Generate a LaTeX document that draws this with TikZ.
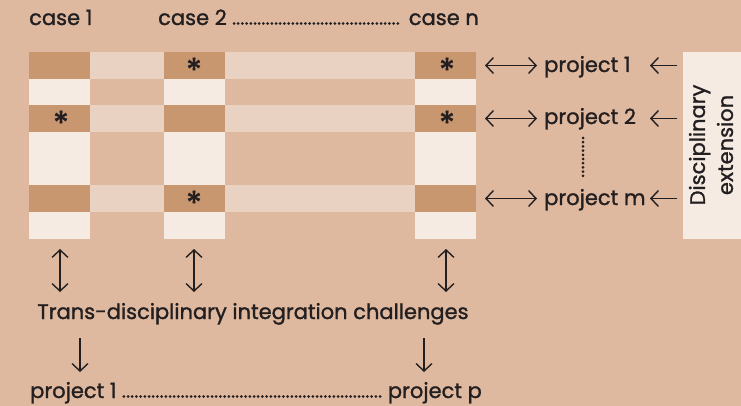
\documentclass[tikz,border=0pt]{standalone}
\usepackage{fontspec}
\setmainfont{Poppins}
\newfontfamily\lblfont{Poppins}[FakeBold=1.3]
\usetikzlibrary{arrows.meta}
\definecolor{bg}{HTML}{DEB9A0}
\definecolor{dark}{HTML}{C8966F}
\definecolor{pale}{HTML}{EAD2C2}
\definecolor{light}{HTML}{F5EBE3}
\definecolor{ink}{HTML}{231F20}
\begin{document}
\begin{tikzpicture}[x=1pt,y=-1pt,
  lbl/.style={font=\lblfont\fontsize{21}{28}\selectfont, text=ink, inner sep=0pt},
  star/.style={font=\lblfont\fontsize{33}{33}\selectfont, text=ink, inner sep=0pt},
  barb/.tip={Straight Barb[length=7.5pt,width=16pt,line width=1.4pt]},
  arr/.style={draw=ink, line width=1.4pt, -barb},
  darr/.style={draw=ink, line width=1.4pt, barb-barb},
  dots/.style={draw=ink, line width=3pt, line cap=round, dash pattern=on 0pt off 4.2pt}]
\fill[bg] (0,0) rectangle (741,406);
\useasboundingbox (0,0) rectangle (741,406);
% grid
\foreach \ya/\yb in {52/79,105/132,185/212}{
  \fill[dark] (29,\ya) rectangle (90,\yb);
  \fill[pale] (90,\ya) rectangle (164,\yb);
  \fill[dark] (164,\ya) rectangle (225,\yb);
  \fill[pale] (225,\ya) rectangle (415,\yb);
  \fill[dark] (415,\ya) rectangle (476,\yb);
}
\foreach \ya/\yb in {79/105,132/185,212/239}{
  \fill[light] (29,\ya) rectangle (90,\yb);
  \fill[light] (164,\ya) rectangle (225,\yb);
  \fill[light] (415,\ya) rectangle (476,\yb);
}
% stars
\node[star] (s1) at (194,70) {*};
\node[star] (s2) at (447,70) {*};
\node[star] (s3) at (61,123) {*};
\node[star] (s4) at (447,123) {*};
\node[star] (s5) at (194,203) {*};
% header
\node[lbl, anchor=base west] (c1) at (29,25) {case 1};
\node[lbl, anchor=base west] (c2) at (158,25) {case 2};
\node[lbl, anchor=base east] (cn) at (479,25) {case n};
\draw[dots] ([xshift=7pt,yshift=1.5pt]c2.base east) -- ([xshift=-7pt,yshift=1.5pt]cn.base west);
% extension box
\fill[light] (683,52) rectangle (741,239);
\node[lbl, rotate=90, align=center, text width=190pt] (ext) at (711,145) {Disciplinary\\extension};
% projects
\node[lbl, anchor=base west] (p1) at (544,72) {project 1};
\node[lbl, anchor=base west] (p2) at (544,124) {project 2};
\node[lbl, anchor=base west] (pm) at (544,205) {project m};
\coordinate (a1) at (485,65.5); \coordinate (b1) at (537,65.5);
\coordinate (a2) at (485,118.5); \coordinate (b2) at (537,118.5);
\coordinate (a3) at (485,198.5); \coordinate (b3) at (537,198.5);
\draw[darr] (a1) -- (b1);
\draw[darr] (a2) -- (b2);
\draw[darr] (a3) -- (b3);
\coordinate (e1) at (677,65.5); \coordinate (f1) at (650,65.5);
\coordinate (e2) at (677,118.5); \coordinate (f2) at (650,118.5);
\coordinate (e3) at (677,198.5); \coordinate (f3) at (650,198.5);
\draw[arr] (e1) -- (f1);
\draw[arr] (e2) -- (f2);
\draw[arr] (e3) -- (f3);
\coordinate (v1) at (583,138); \coordinate (v2) at (583,177);
\draw[dots] (v1) -- (v2);
% bottom
\coordinate (u1) at (60,249); \coordinate (d1) at (60,292);
\coordinate (u2) at (194,249); \coordinate (d2) at (194,292);
\coordinate (u3) at (446,249); \coordinate (d3) at (446,292);
\draw[darr] (u1) -- (d1);
\draw[darr] (u2) -- (d2);
\draw[darr] (u3) -- (d3);
\node[lbl, anchor=base] (tdi) at (253,319) {Trans-disciplinary integration challenges};
\coordinate (g1) at (80,338); \coordinate (h1) at (80,372);
\coordinate (g2) at (424,338); \coordinate (h2) at (424,372);
\draw[arr] (g1) -- (h1);
\draw[arr] (g2) -- (h2);
\node[lbl, anchor=base west] (q1) at (30,398) {project 1};
\node[lbl, anchor=base east] (qp) at (482,398) {project p};
\draw[dots] ([xshift=7pt,yshift=1.5pt]q1.base east) -- ([xshift=-7pt,yshift=1.5pt]qp.base west);
\end{tikzpicture}
\end{document}
